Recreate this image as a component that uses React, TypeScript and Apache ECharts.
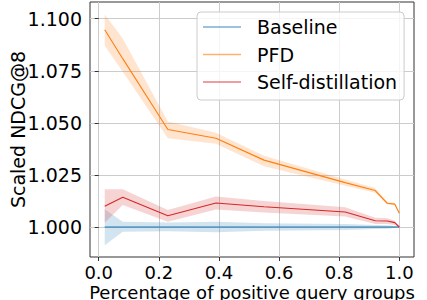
import React, { useEffect, useRef } from "react";
import * as echarts from "echarts";

const xs = [0.02, 0.08, 0.23, 0.39, 0.55, 0.82, 0.92, 0.96, 0.985, 1.0];

const baseline = [1.0, 1.0, 1.0, 1.0, 1.0, 1.0, 1.0, 1.0, 1.0, 1.0];
const baselineHi = [1.0085, 1.0025, 1.0022, 1.0025, 1.0018, 1.0014, 1.001, 1.0008, 1.0005, 1.0];
const baselineLo = [0.9913, 0.9977, 0.998, 0.9975, 0.9982, 0.9986, 0.999, 0.9992, 0.9995, 1.0];

const pfd = [1.0947, 1.0808, 1.0468, 1.0426, 1.0321, 1.0213, 1.0175, 1.0114, 1.011, 1.0066];
const pfdHi = [1.102, 1.0905, 1.0506, 1.0452, 1.0342, 1.0228, 1.0187, 1.012, 1.0115, 1.007];
const pfdLo = [1.087, 1.0745, 1.0426, 1.04, 1.0292, 1.0198, 1.0165, 1.0108, 1.0105, 1.0062];

const selfDist = [1.01, 1.0143, 1.0054, 1.0115, 1.0097, 1.0072, 1.003, 1.0029, 1.0021, 1.0];
const selfDistHi = [1.0181, 1.0181, 1.0082, 1.0146, 1.0125, 1.0095, 1.0045, 1.0042, 1.003, 1.0002];
const selfDistLo = [1.0021, 1.0106, 1.0025, 1.0084, 1.007, 1.005, 1.0015, 1.0015, 1.001, 0.9998];

const xTicks = [0, 0.2, 0.4, 0.6, 0.8, 1.0];
const yTicks = [1.0, 1.025, 1.05, 1.075, 1.1];

const BLUE = "#1f77b4";
const ORANGE = "#ff7f0e";
const RED = "#d62728";
const FONT = "DejaVu Sans";
const FS = 19;
const FSX = 18;

function bandSeries(name: string, lo: number[], hi: number[], color: string) {
  return {
    type: "custom",
    name,
    silent: true,
    clip: true,
    z: 1,
    data: xs.map((x, i) => [x, lo[i], hi[i]]),
    encode: { x: 0, y: [1, 2] },
    renderItem: (params: any, api: any) => {
      if (params.dataIndex !== 0) return { type: "group", children: [] };
      const upper = xs.map((x, i) => api.coord([x, hi[i]]));
      const lower = xs.map((x, i) => api.coord([x, lo[i]])).reverse();
      return {
        type: "polygon",
        shape: { points: upper.concat(lower) },
        style: { fill: color, opacity: 0.2 },
      };
    },
  };
}

function lineSeries(name: string, ys: number[], color: string) {
  return {
    type: "line",
    name,
    data: xs.map((x, i) => [x, ys[i]]),
    symbol: "none",
    showSymbol: false,
    z: 3,
    lineStyle: { color, width: 1.1 },
    itemStyle: { color },
  };
}

export default function App() {
  const ref = useRef<HTMLDivElement>(null);
  useEffect(() => {
    if (!ref.current) return;
    const chart = echarts.init(ref.current, undefined, { renderer: "svg" });
    chart.setOption({
      animation: false,
      backgroundColor: "#ffffff",
      textStyle: { fontFamily: FONT },
      grid: {
        left: 90,
        top: 2,
        right: 13,
        bottom: 43,
        outerBoundsMode: "none",
        containLabel: false,
        show: true,
        borderColor: "#333",
        borderWidth: 1,
        backgroundColor: "transparent",
      },
      legend: {
        left: 197,
        top: 12,
        orient: "vertical",
        icon: "rect",
        itemWidth: 38,
        itemHeight: 1.6,
        itemGap: 7.5,
        padding: [5, 7, 8, 6],
        backgroundColor: "rgba(255,255,255,0.8)",
        borderColor: "#cccccc",
        borderWidth: 1,
        borderRadius: 4,
        textStyle: {
          fontFamily: FONT,
          fontSize: FS,
          color: "#000",
          lineHeight: 20,
          padding: [0, 0, 0, 11],
        },
        data: [
          { name: "Baseline", itemStyle: { color: "rgba(31,119,180,0.6)" } },
          { name: "PFD", itemStyle: { color: "rgba(255,127,14,0.6)" } },
          { name: "Self-distillation", itemStyle: { color: "rgba(214,39,40,0.6)" } },
        ],
      },
      xAxis: {
        type: "value",
        min: -0.029,
        max: 1.049,
        name: "Percentage of positive query groups",
        nameLocation: "middle",
        nameGap: 26,
        nameMoveOverlap: false,
        nameTextStyle: { fontFamily: FONT, fontSize: FSX, color: "#000", lineHeight: 18 },
        axisLine: { show: false },
        axisTick: {
          show: true,
          inside: false,
          length: 4,
          customValues: xTicks,
          lineStyle: { color: "#333" },
        },
        axisLabel: {
          customValues: xTicks,
          fontFamily: FONT,
          fontSize: FSX,
          lineHeight: 18,
          color: "#000",
          margin: 6,
          formatter: (v: number) => v.toFixed(1),
        },
        splitLine: { show: true, lineStyle: { color: "#cccccc", width: 1 } },
      },
      yAxis: {
        type: "value",
        min: 0.9856,
        max: 1.108,
        name: "Scaled NDCG@8",
        nameLocation: "middle",
        nameGap: 63,
        nameMoveOverlap: false,
        nameTextStyle: { fontFamily: FONT, fontSize: FS, color: "#000" },
        axisLine: { show: false },
        axisTick: {
          show: true,
          inside: false,
          length: 4,
          customValues: yTicks,
          lineStyle: { color: "#333" },
        },
        axisLabel: {
          customValues: yTicks,
          fontFamily: FONT,
          fontSize: FS,
          color: "#000",
          margin: 8,
          formatter: (v: number) => v.toFixed(3),
        },
        splitLine: { show: true, lineStyle: { color: "#cccccc", width: 1 } },
      },
      series: [
        bandSeries("Baseline band", baselineLo, baselineHi, BLUE),
        bandSeries("PFD band", pfdLo, pfdHi, ORANGE),
        bandSeries("Self-distillation band", selfDistLo, selfDistHi, RED),
        lineSeries("Baseline", baseline, BLUE),
        lineSeries("PFD", pfd, ORANGE),
        lineSeries("Self-distillation", selfDist, RED),
      ],
    });
    return () => chart.dispose();
  }, []);
  return <div ref={ref} style={{ width: 427, height: 300, position: "fixed", left: 0, top: 0 }} />;
}
